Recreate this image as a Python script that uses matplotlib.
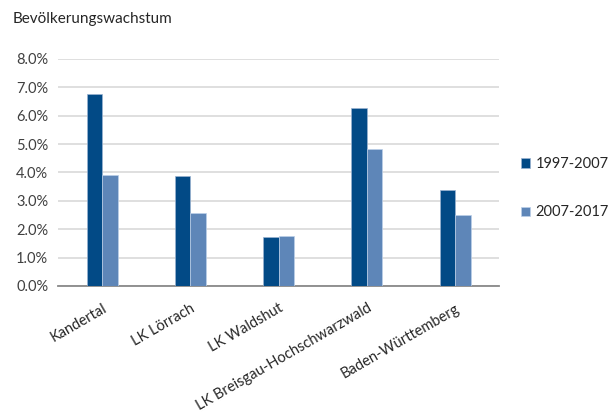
import matplotlib.pyplot as plt
import numpy as np

# Data (growth in percent)
categories = ['Kandertal', 'LK Lörrach', 'LK Waldshut',
              'LK Breisgau-Hochschwarzwald', 'Baden-Württemberg']
growth_1997_2007 = [6.75, 3.88, 1.74, 6.28, 3.37]
growth_2007_2017 = [3.91, 2.57, 1.77, 4.84, 2.50]
series_labels = ['1997-2007', '2007-2017']
yticks = [0, 1, 2, 3, 4, 5, 6, 7, 8]

plt.rcParams['font.family'] = ['Lato', 'DejaVu Sans']

dark = '#024a86'
light = '#5e86b8'

fig = plt.figure(figsize=(6.11, 4.15), dpi=100)
ax = fig.add_axes([0.095, 0.311, 0.722, 0.547])

x = np.arange(len(categories))
width = 0.176
ax.bar(x - width / 2, np.array(growth_1997_2007) / 100, width,
       color=dark, edgecolor='#9bb3d1', linewidth=0.5, label=series_labels[0], zorder=3)
ax.bar(x + width / 2, np.array(growth_2007_2017) / 100, width,
       color=light, edgecolor='#bcd0e8', linewidth=0.5, label=series_labels[1], zorder=3)

ax.set_xlim(-0.5, len(categories) - 0.5)
ax.set_ylim(0, 0.08)
ax.set_yticks([t / 100 for t in yticks])
ax.set_yticklabels([f'{t:.1f}%' for t in yticks], fontsize=10.5, color='#404040')
ax.grid(axis='y', color='#d9d9d9', linewidth=1.2, zorder=0)
for s in ['top', 'right', 'left']:
    ax.spines[s].set_visible(False)
ax.spines['bottom'].set_color('#898989')
ax.spines['bottom'].set_linewidth(1.3)
ax.tick_params(axis='both', length=0)
ax.tick_params(axis='y', pad=7)

ax.set_xticks(x)
ax.set_xticklabels(categories, rotation=30, ha='right', rotation_mode='anchor',
                   fontsize=10.5, color='#262626')
ax.tick_params(axis='x', pad=11)

fig.text(0.02, 0.955, 'Bevölkerungswachstum', fontsize=11, color='#262626',
         va='center', ha='left')

leg = ax.legend(loc='center left', bbox_to_anchor=(1.02, 0.43), frameon=False,
                fontsize=10.5, handlelength=0.6, handleheight=0.6,
                handletextpad=0.4, labelspacing=2.35)
for t in leg.get_texts():
    t.set_color('#262626')

fig.savefig('out.png', dpi=100)
